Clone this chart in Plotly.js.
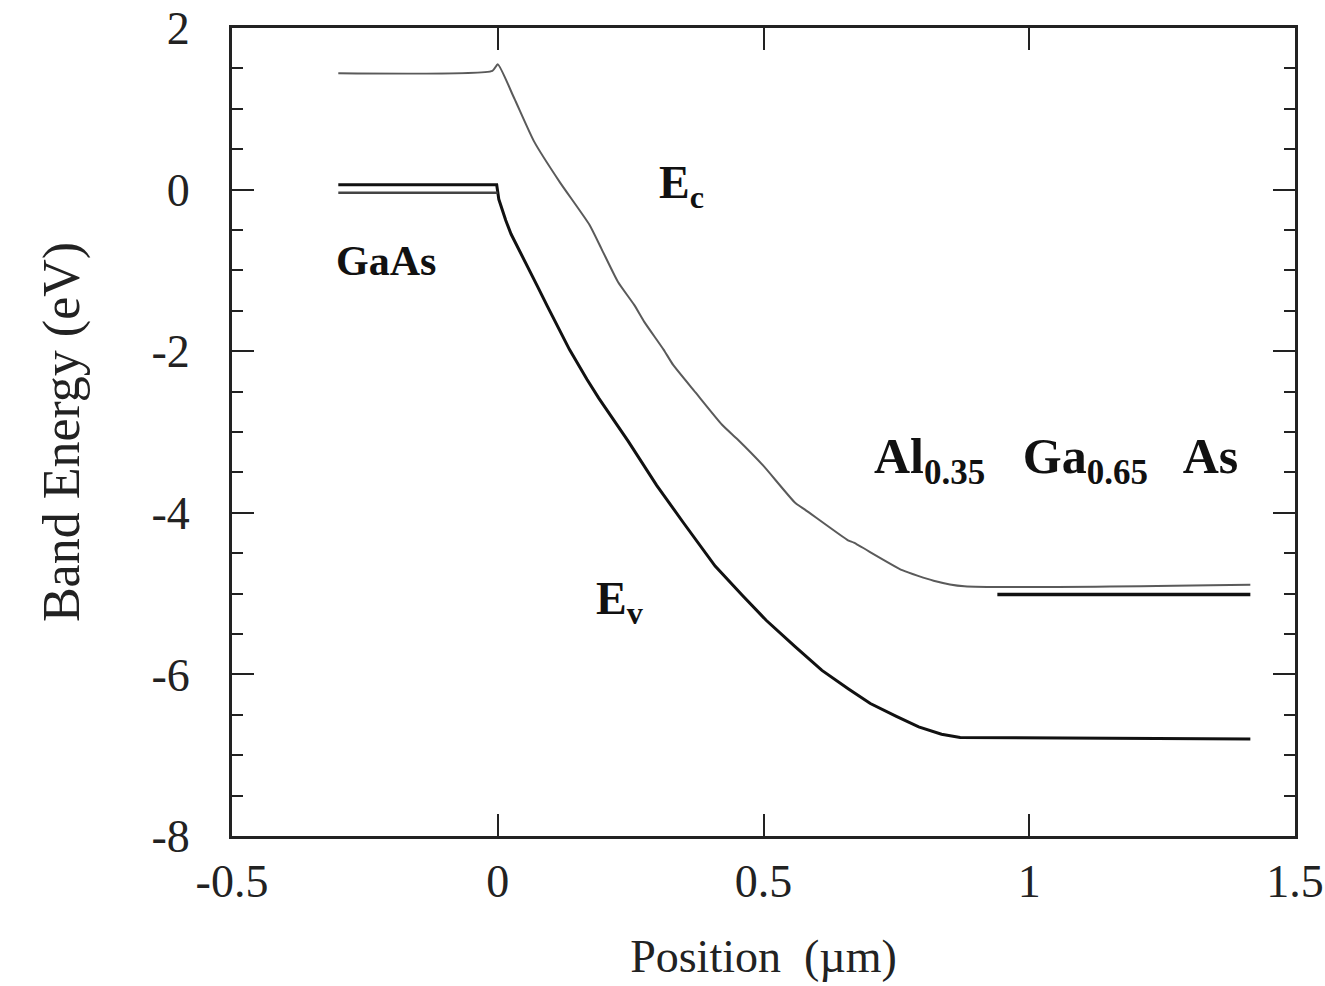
<!DOCTYPE html>
<html>
<head>
<meta charset="utf-8">
<script src="https://cdn.plot.ly/plotly-3.0.1.min.js"></script>
<style>html,body{margin:0;padding:0;background:#fff;}#chart{width:1325px;height:986px;}</style>
</head>
<body>
<div id="chart"></div>
<script>
// Conduction band edge Ec (position in µm, energy in eV)
const ecX = [-0.30, -0.01, 0.0, 0.031, 0.068, 0.117, 0.172, 0.195, 0.226, 0.257, 0.276, 0.312, 0.330, 0.372, 0.422, 0.451, 0.500, 0.560, 0.578, 0.659, 0.670, 0.761, 0.820, 0.878, 1.416];
const ecY = [1.44, 1.47, 1.55, 1.13, 0.60, 0.09, -0.43, -0.73, -1.14, -1.43, -1.64, -1.98, -2.17, -2.51, -2.91, -3.09, -3.42, -3.88, -3.96, -4.34, -4.37, -4.71, -4.84, -4.91, -4.89];
// Valence band edge Ev
const evX = [-0.30, -0.002, 0.002, 0.008, 0.015, 0.025, 0.035, 0.047, 0.060, 0.075, 0.093, 0.135, 0.168, 0.190, 0.245, 0.299, 0.349, 0.409, 0.460, 0.505, 0.560, 0.610, 0.660, 0.701, 0.750, 0.792, 0.835, 0.870, 1.416];
const evY = [0.06, 0.06, -0.12, -0.25, -0.38, -0.55, -0.68, -0.84, -0.99, -1.20, -1.44, -1.98, -2.35, -2.58, -3.11, -3.66, -4.12, -4.66, -5.02, -5.33, -5.66, -5.95, -6.18, -6.36, -6.52, -6.65, -6.74, -6.78, -6.80];
// Fermi level segments
const efLeftX = [-0.30, 0.0];
const efLeftY = [-0.04, -0.04];
const efRightX = [0.94, 1.416];
const efRightY = [-5.01, -5.01];
// Axis ticks
const xTicks = [-0.5, 0, 0.5, 1, 1.5];
const yTicks = [2, 0, -2, -4, -6, -8];

const serif = "Liberation Serif, Times New Roman, serif";

const traces = [
  {x: ecX, y: ecY, mode: 'lines', line: {color: '#5a5a5a', width: 2, shape: 'spline', smoothing: 0.5}, name: 'Ec', hoverinfo: 'skip'},
  {x: evX, y: evY, mode: 'lines', line: {color: '#111', width: 3}, name: 'Ev', hoverinfo: 'skip'},
  {x: efLeftX, y: efLeftY, mode: 'lines', line: {color: '#444', width: 2.5}, name: 'Ef', hoverinfo: 'skip'},
  {x: efRightX, y: efRightY, mode: 'lines', line: {color: '#111', width: 3.5}, name: 'Ef2', hoverinfo: 'skip'}
];

const axisCommon = {
  showline: true, linecolor: '#222', linewidth: 3, mirror: 'ticks',
  ticks: 'inside', tickcolor: '#222', tickwidth: 2, ticklen: 22,
  showgrid: false, zeroline: false, ticklabeloverflow: 'allow',
  tickfont: {family: serif, size: 46, color: '#222'}
};

const layout = {
  width: 1325, height: 986,
  margin: {l: 232, r: 30, t: 28, b: 150},
  paper_bgcolor: '#fff', plot_bgcolor: '#fff',
  showlegend: false,
  xaxis: Object.assign({}, axisCommon, {
    range: [-0.5, 1.5], tickmode: 'array', tickvals: xTicks,
    ticktext: xTicks.map(String), ticklabelstandoff: 3, automargin: false,
    title: {text: 'Position  (µm)', font: {family: serif, size: 46, color: '#222'}, standoff: 34}
  }),
  yaxis: Object.assign({}, axisCommon, {
    range: [-8, 2], tickmode: 'array', tickvals: yTicks,
    ticktext: yTicks.map(String), ticklabelstandoff: 30,
    minor: {dtick: 0.5, ticks: 'inside', ticklen: 11, tickwidth: 2, tickcolor: '#222', showgrid: false},
    title: {text: 'Band Energy (eV)', font: {family: serif, size: 52, color: '#222'}, standoff: 56}
  }),
  annotations: [
    {x: 0.345, y: 0.04, xref: 'x', yref: 'y', text: '<b>E<sub>c</sub></b>', showarrow: false,
     font: {family: serif, size: 46, color: '#111'}},
    {x: 0.23, y: -5.1, xref: 'x', yref: 'y', text: '<b>E<sub>v</sub></b>', showarrow: false,
     font: {family: serif, size: 46, color: '#111'}},
    {x: -0.21, y: -0.88, xref: 'x', yref: 'y', text: '<b>GaAs</b>', showarrow: false,
     font: {family: serif, size: 42, color: '#111'}},
    {x: 1.05, y: -3.35, xref: 'x', yref: 'y', text: '<b>Al<sub>0.35</sub>   Ga<sub>0.65</sub>   As</b>', showarrow: false,
     font: {family: serif, size: 50, color: '#111'}}
  ]
};

Plotly.newPlot('chart', traces, layout, {staticPlot: true, displayModeBar: false});
</script>
</body>
</html>
